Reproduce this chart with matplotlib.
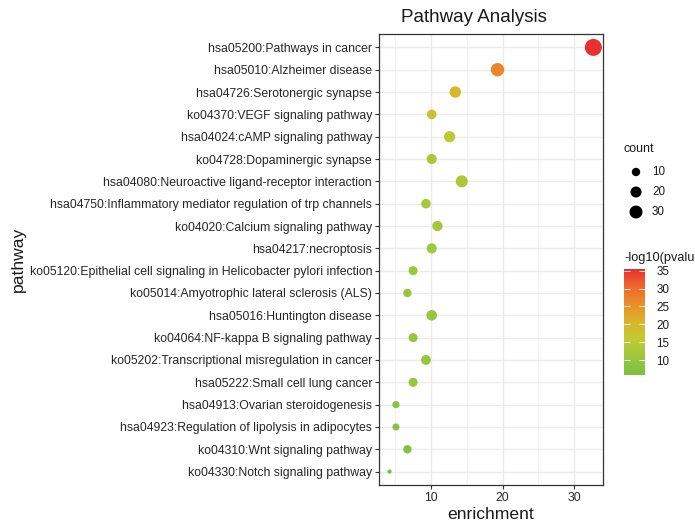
import numpy as np
import matplotlib
matplotlib.use("Agg")
import matplotlib.pyplot as plt
from matplotlib.colors import LinearSegmentedColormap, Normalize
from matplotlib.ticker import MultipleLocator
import matplotlib.colorbar as mcolorbar

plt.rcParams['font.family'] = ['Liberation Sans', 'DejaVu Sans']

# ---------------- data ----------------
pathways = [
    "hsa05200:Pathways in cancer",
    "hsa05010:Alzheimer disease",
    "hsa04726:Serotonergic synapse",
    "ko04370:VEGF signaling pathway",
    "hsa04024:cAMP signaling pathway",
    "ko04728:Dopaminergic synapse",
    "hsa04080:Neuroactive ligand-receptor interaction",
    "hsa04750:Inflammatory mediator regulation of trp channels",
    "ko04020:Calcium signaling pathway",
    "hsa04217:necroptosis",
    "ko05120:Epithelial cell signaling in Helicobacter pylori infection",
    "ko05014:Amyotrophic lateral sclerosis (ALS)",
    "hsa05016:Huntington disease",
    "ko04064:NF-kappa B signaling pathway",
    "ko05202:Transcriptional misregulation in cancer",
    "hsa05222:Small cell lung cancer",
    "hsa04913:Ovarian steroidogenesis",
    "hsa04923:Regulation of lipolysis in adipocytes",
    "ko04310:Wnt signaling pathway",
    "ko04330:Notch signaling pathway",
]
enrichment = [32.7, 19.3, 13.4, 10.1, 12.6, 10.1, 14.3, 9.3, 10.9, 10.1,
              7.5, 6.7, 10.1, 7.5, 9.3, 7.5, 5.1, 5.1, 6.7, 4.2]
count = [60, 33, 22, 14, 21, 16, 25, 14, 17, 16,
         12, 10, 18, 12, 15, 12, 7, 7, 10, 4]
neglogp = [35.5, 27, 20, 18, 15, 13, 13, 12.5, 12, 11.5,
           11, 10, 10.5, 10, 10, 10, 8, 8, 7, 5.8]
size_breaks = [10, 20, 30]
color_breaks = [10, 15, 20, 25, 30, 35]
x_ticks = [10, 20, 30]

# ---------------- helpers ----------------
W, H, DPI = 695, 521, 100
cmin, cmax = min(count), max(count)

def diam_pt(c):
    c = np.asarray(c, dtype=float)
    px = 4.2 + 12.8 * np.sqrt((c - cmin) / (cmax - cmin))
    return px * 72.0 / DPI

cmap = LinearSegmentedColormap.from_list(
    "gr", ["#7CBF44", "#9CC63D", "#BFCB33", "#D8B52A", "#EA8F2A", "#EE6A2C", "#E8302F"])
norm = Normalize(vmin=min(neglogp), vmax=max(neglogp))

def fx(px):
    return px / W

def fy(py):
    return 1 - py / H

TXT = "#1a1a1a"

fig = plt.figure(figsize=(W / DPI, H / DPI), dpi=DPI)
fig.patch.set_facecolor("white")

# main panel
ax = fig.add_axes([fx(379), fy(485), fx(603) - fx(379), fy(34) - fy(485)])
n = len(pathways)
ypos = np.arange(n, 0, -1)
ax.scatter(enrichment, ypos, s=diam_pt(count) ** 2, c=neglogp, cmap=cmap, norm=norm,
           edgecolors="none", zorder=3)
ax.set_ylim(0.4, n + 0.6)
ax.set_xlim(2.73, 34.05)
ax.set_yticks(ypos)
ax.set_yticklabels(pathways)
ax.set_xticks(x_ticks)
ax.xaxis.set_minor_locator(MultipleLocator(5))
ax.grid(True, which="major", color="#EBEBEB", linewidth=1.0, zorder=0)
ax.grid(True, which="minor", axis="x", color="#F2F2F2", linewidth=0.6, zorder=0)
ax.set_axisbelow(True)
for sp in ax.spines.values():
    sp.set_color("#333333")
    sp.set_linewidth(0.9)
ax.tick_params(axis="both", which="major", length=3, width=0.8, color="#333333",
               labelsize=8.8, labelcolor="#262626", pad=2)
ax.tick_params(axis="x", which="minor", length=0)
ax.set_xlabel("enrichment", fontsize=12.6, color=TXT, labelpad=2)

fig.text(fx(18), fy(259), "pathway", rotation=90, ha="center", va="center",
         fontsize=12.6, color=TXT)
fig.text(fx(474), fy(18), "Pathway Analysis", ha="center", va="center",
         fontsize=13.5, color=TXT)

# size legend
fig.text(fx(623), fy(149), "count", ha="left", va="center", fontsize=9, color=TXT)
lax = fig.add_axes([fx(620), fy(225), fx(680) - fx(620), fy(160) - fy(225)])
lax.set_xlim(620, 680)
lax.set_ylim(225, 160)
lax.axis("off")
legend_y = [172, 192, 212]
lax.scatter([636] * len(size_breaks), legend_y, s=diam_pt(size_breaks) ** 2,
            c="black", edgecolors="none")
for yy, b in zip(legend_y, size_breaks):
    lax.text(652, yy, str(b), ha="left", va="center", fontsize=8.4, color=TXT)

# colorbar legend
fig.text(fx(624), fy(258), "-log10(pvalue)", ha="left", va="center", fontsize=9.2,
         color=TXT)
cax = fig.add_axes([fx(624), fy(375), fx(645) - fx(624), fy(269) - fy(375)])
cb = mcolorbar.ColorbarBase(cax, cmap=cmap, norm=norm, orientation="vertical")
cb.set_ticks(color_breaks)
cb.outline.set_visible(False)
cax.tick_params(axis="y", direction="in", length=4, width=0.6, color="white",
                labelsize=8.4, labelcolor=TXT, pad=8, right=True, left=True)

fig.savefig("out.png", dpi=DPI, facecolor="white")
